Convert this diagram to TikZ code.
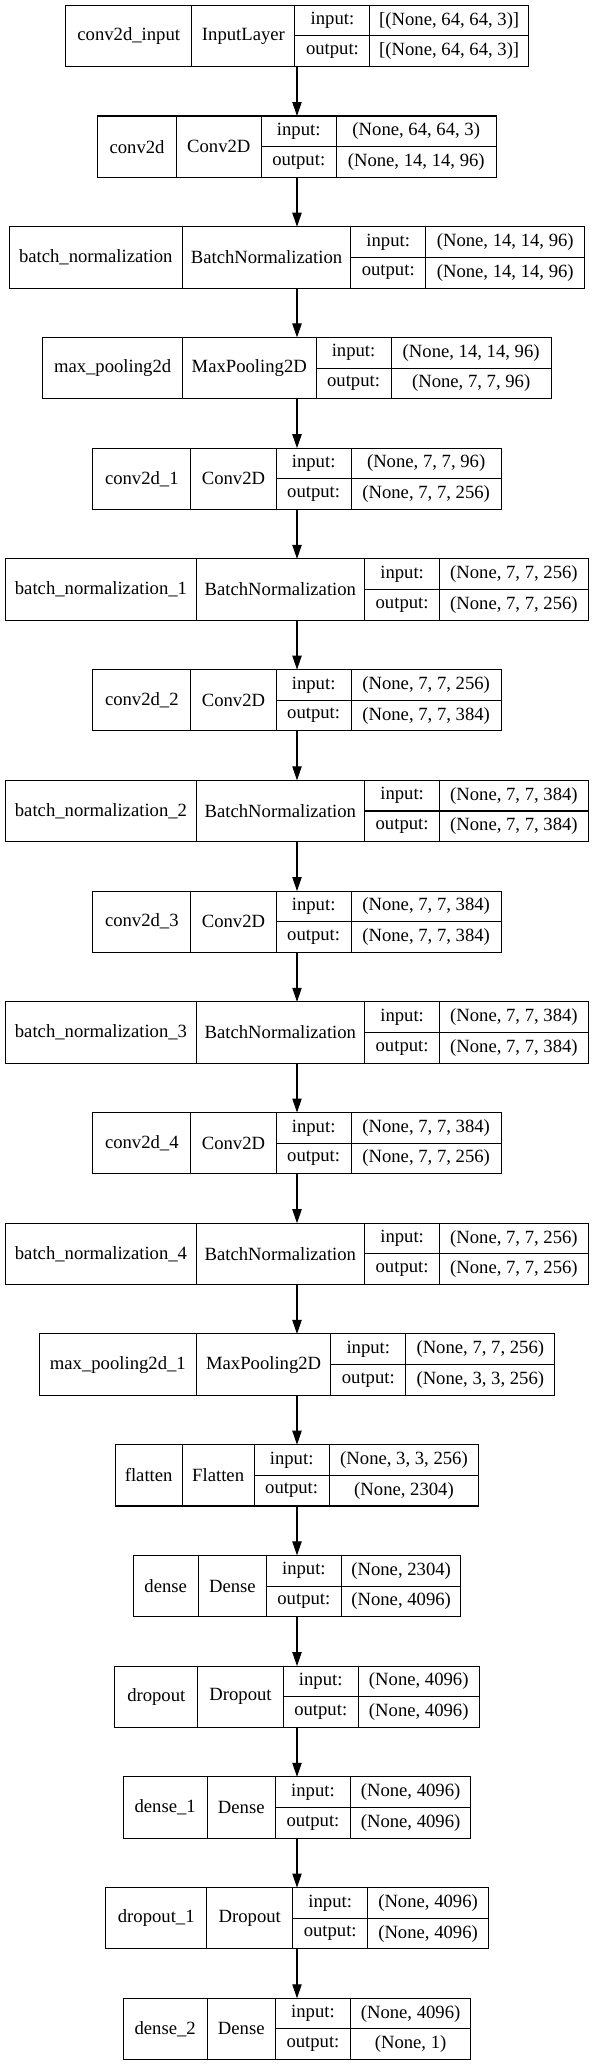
\documentclass[tikz,border=0pt]{standalone}
\usepackage{fontspec}
\setmainfont{Liberation Serif}
\usetikzlibrary{arrows.meta}
\tikzset{
  cell/.style={draw=black, line width=0.8pt, inner sep=0pt, outer sep=0pt, rectangle, font=\fontsize{14}{16}\selectfont},
  boxframe/.style={inner sep=0pt, outer sep=0pt, rectangle},
  arr/.style={-{Triangle[length=10.5pt,width=7pt]}, line width=0.8pt, draw=black},
}
\def\parsew#1/#2/#3\relax{\def\wA{#1}\def\wB{#2}\def\wC{#3}}
\newcommand{\lay}[6]{%
  \parsew#4\relax
  \pgfmathsetmacro\WW{\wA+\wB+75+\wC}%
  \pgfmathsetmacro\xl{297-\WW/2}%
  \pgfmathsetmacro\yt{5.3+110.72*#1}%
  \pgfmathsetmacro\xa{\xl+\wA/2}%
  \pgfmathsetmacro\xb{\xl+\wA+\wB/2}%
  \pgfmathsetmacro\xc{\xl+\wA+\wB+37.5}%
  \pgfmathsetmacro\xd{\xl+\wA+\wB+75+\wC/2}%
  \node[boxframe, minimum width=\WW*0.75pt, minimum height=61.3*0.75pt] (L#1) at (297,\yt+30.65) {};
  \node[cell, minimum width=\wA*0.75pt, minimum height=61.3*0.75pt] (L#1n) at (\xa,\yt+30.65) {#2};
  \node[cell, minimum width=\wB*0.75pt, minimum height=61.3*0.75pt] (L#1t) at (\xb,\yt+30.65) {#3};
  \node[cell, minimum width=75*0.75pt, minimum height=30.65*0.75pt] (L#1i) at (\xc,\yt+15.325) {input:};
  \node[cell, minimum width=75*0.75pt, minimum height=30.65*0.75pt] (L#1o) at (\xc,\yt+45.975) {output:};
  \node[cell, minimum width=\wC*0.75pt, minimum height=30.65*0.75pt] (L#1is) at (\xd,\yt+15.325) {#5};
  \node[cell, minimum width=\wC*0.75pt, minimum height=30.65*0.75pt] (L#1os) at (\xd,\yt+45.975) {#6};
}
\begin{document}
\begin{tikzpicture}[x=0.75pt,y=-0.75pt]
\useasboundingbox (0,0) rectangle (593,2065);
\lay{0}{conv2d\_input}{InputLayer}{126.4/103/158.5}{[(None, 64, 64, 3)]}{[(None, 64, 64, 3)]}
\lay{1}{conv2d}{Conv2D}{78.6/84.9/160}{(None, 64, 64, 3)}{(None, 14, 14, 96)}
\lay{2}{batch\_normalization}{BatchNormalization}{173/168.5/159}{(None, 14, 14, 96)}{(None, 14, 14, 96)}
\lay{3}{max\_pooling2d}{MaxPooling2D}{139.7/133.6/160.2}{(None, 14, 14, 96)}{(None, 7, 7, 96)}
\lay{4}{conv2d\_1}{Conv2D}{98/85.3/150}{(None, 7, 7, 96)}{(None, 7, 7, 256)}
\lay{5}{batch\_normalization\_1}{BatchNormalization}{190.3/168.5/148.6}{(None, 7, 7, 256)}{(None, 7, 7, 256)}
\lay{6}{conv2d\_2}{Conv2D}{98/85.3/150}{(None, 7, 7, 256)}{(None, 7, 7, 384)}
\lay{7}{batch\_normalization\_2}{BatchNormalization}{190.3/168.5/148.6}{(None, 7, 7, 384)}{(None, 7, 7, 384)}
\lay{8}{conv2d\_3}{Conv2D}{98/85.3/150}{(None, 7, 7, 384)}{(None, 7, 7, 384)}
\lay{9}{batch\_normalization\_3}{BatchNormalization}{190.3/168.5/148.6}{(None, 7, 7, 384)}{(None, 7, 7, 384)}
\lay{10}{conv2d\_4}{Conv2D}{98/85.3/150}{(None, 7, 7, 384)}{(None, 7, 7, 256)}
\lay{11}{batch\_normalization\_4}{BatchNormalization}{190.3/168.5/148.6}{(None, 7, 7, 256)}{(None, 7, 7, 256)}
\lay{12}{max\_pooling2d\_1}{MaxPooling2D}{157.3/134.3/149}{(None, 7, 7, 256)}{(None, 3, 3, 256)}
\lay{13}{flatten}{Flatten}{67/72/149.7}{(None, 3, 3, 256)}{(None, 2304)}
\lay{14}{dense}{Dense}{65.3/68/119.6}{(None, 2304)}{(None, 4096)}
\lay{15}{dropout}{Dropout}{83.1/85.4/121}{(None, 4096)}{(None, 4096)}
\lay{16}{dense\_1}{Dense}{83.9/68.3/120.3}{(None, 4096)}{(None, 4096)}
\lay{17}{dropout\_1}{Dropout}{101.3/85.8/120.7}{(None, 4096)}{(None, 4096)}
\lay{18}{dense\_2}{Dense}{83.9/68.3/120.3}{(None, 4096)}{(None, 1)}
\foreach \i [evaluate=\i as \j using int(\i+1)] in {0,...,17}
  \draw[arr] (L\i.south) -- (L\j.north);
\end{tikzpicture}
\end{document}
